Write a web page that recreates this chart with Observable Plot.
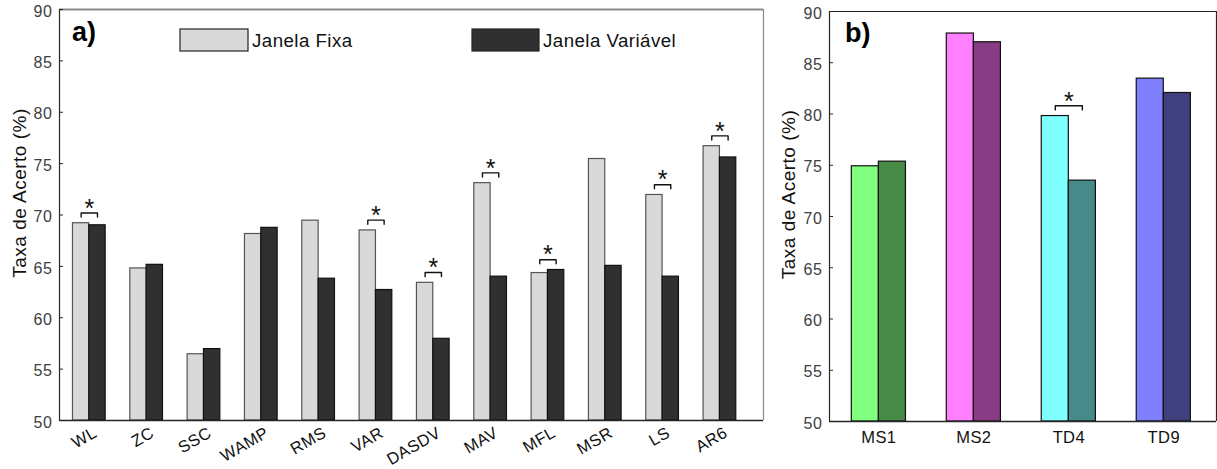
<!DOCTYPE html>
<html><head><meta charset="utf-8">
<script src="https://cdn.jsdelivr.net/npm/d3@7"></script>
<script src="https://cdn.jsdelivr.net/npm/@observablehq/plot@0.6"></script>
<style>
body{margin:0;background:#fff;}
#root{position:relative;width:1217px;height:469px;overflow:hidden;font-family:"Liberation Sans",Arial,sans-serif;}
#root > svg{position:absolute;top:0;}
</style></head><body><div id="root"></div>
<script>
// ---- data ----
const seriesNames = ["Janela Fixa", "Janela Variável"];
const featuresA = ["WL","ZC","SSC","WAMP","RMS","VAR","DASDV","MAV","MFL","MSR","LS","AR6"];
const fixaA     = [69.2, 64.8, 56.45, 68.15, 69.45, 68.5, 63.4, 73.1, 64.35, 75.45, 71.95, 76.7];
const variavelA = [69.0, 65.15, 56.95, 68.75, 63.8, 62.7, 57.95, 64.0, 64.65, 65.05, 64.0, 75.6];
const significantA = ["WL","VAR","DASDV","MAV","MFL","LS","AR6"];
const groupsB    = ["MS1","MS2","TD4","TD9"];
const fixaB      = [74.9, 87.85, 79.8, 83.45];
const variavelB  = [75.35, 87.0, 73.5, 82.05];
const significantB = ["TD4"];
const colorsFixaB     = ["#80ff80","#ff80ff","#80ffff","#8080ff"];
const colorsVariavelB = ["#488a48","#873c84","#468a8a","#40407f"];
const yTicks = [50,55,60,65,70,75,80,85,90];
const yLabel = "Taxa de Acerto (%)";

// ---- helpers ----
const BAR = 0.285, BR = 1.0, TK = 0.4, AST = 2.0;
const yMin = 50, yMax = 90;
const FONT = '"Liberation Sans", Arial, Helvetica, sans-serif';
const INK = "#262626";

function rows(cats, fixa, varv) {
  return cats.flatMap((c, i) => [
    {cat: c, i, s: 0, value: fixa[i]},
    {cat: c, i, s: 1, value: varv[i]}
  ]);
}
function sigRows(cats, fixa, varv, sig) {
  return sig.map(c => { const i = cats.indexOf(c); return {i, top: Math.max(fixa[i], varv[i])}; });
}
function bracketPts(sig) {
  return sig.flatMap((d, k) => [
    {k, x: d.i - BAR/2, y: d.top + BR - TK},
    {k, x: d.i - BAR/2, y: d.top + BR},
    {k, x: d.i + BAR/2, y: d.top + BR},
    {k, x: d.i + BAR/2, y: d.top + BR - TK}
  ]);
}

function panel(o) {
  const data = rows(o.cats, o.fixa, o.varv);
  const sig = sigRows(o.cats, o.fixa, o.varv, o.sig);
  const plotW = o.width - o.marginLeft - o.marginRight;
  return Plot.plot({
    width: o.width, height: 469,
    marginLeft: o.marginLeft, marginRight: o.marginRight, marginTop: o.marginTop, marginBottom: o.marginBottom,
    style: {fontFamily: FONT, color: INK, background: "transparent", overflow: "visible"},
    x: {domain: o.xDomain},
    y: {domain: [yMin, yMax]},
    color: {type: "identity"},
    marks: [
      Plot.rect(data, {
        x1: d => d.i + (d.s === 0 ? -BAR : 0),
        x2: d => d.i + (d.s === 0 ? 0 : BAR),
        y1: yMin, y2: "value",
        fill: o.fill, stroke: o.stroke, strokeWidth: 1.2
      }),
      Plot.line(bracketPts(sig), {x: "x", y: "y", z: "k", stroke: "#111", strokeWidth: 1.4, curve: "linear"}),
      Plot.text(sig, {x: "i", y: d => d.top + AST, text: () => "*", fontSize: 25, fontFamily: FONT, fill: "#111", lineAnchor: "middle", dy: 6}),
      Plot.ruleY([yMin], {stroke: INK, strokeWidth: 1.3}),
      Plot.ruleY([yMax], {stroke: o.topStroke, strokeWidth: o.topWidth}),
      Plot.ruleX([o.xDomain[0]], {stroke: INK, strokeWidth: 1.2}),
      Plot.ruleX([o.xDomain[1]], {stroke: o.rightStroke, strokeWidth: 1.2}),
      Plot.tickY(yTicks, {y: d => d, insetRight: plotW - 4, stroke: INK}),
      Plot.axisY({ticks: yTicks, tickSize: 0, tickPadding: 7, fontSize: 16, label: null, dy: 2, fill: "#404040"}),
      o.rotate
        ? Plot.axisX({ticks: o.cats.map((_, i) => i), tickFormat: i => o.cats[i], tickSize: 0, tickRotate: -30, tickPadding: 11, dx: 6, fontSize: 16.5, label: null, fill: "#111"})
        : Plot.axisX({ticks: o.cats.map((_, i) => i), tickFormat: i => o.cats[i], tickSize: 0, tickPadding: 10, fontSize: 16.5, label: null, fill: "#111"}),
      Plot.text([yLabel], {frameAnchor: "left", textAnchor: "middle", rotate: -90, dx: o.labelDx, dy: -22, fontSize: 19, fill: "#111"})
    ]
  });
}

const root = document.getElementById("root");

const svgA = panel({
  cats: featuresA, fixa: fixaA, varv: variavelA, sig: significantA,
  width: 780, marginLeft: 59, marginRight: 17, marginTop: 9, marginBottom: 49,
  xDomain: [-0.52, 11.76],
  fill: d => d.s === 0 ? "#d9d9d9" : "#303030",
  stroke: d => d.s === 0 ? "#555555" : "#111111",
  rotate: true, topStroke: "#8a8a8a", topWidth: 2, rightStroke: "#8a8a8a", labelDx: -40
});
svgA.style.left = "0px";
root.appendChild(svgA);

const svgB = panel({
  cats: groupsB, fixa: fixaB, varv: variavelB, sig: significantB,
  width: 447, marginLeft: 59, marginRight: 1, marginTop: 11, marginBottom: 48,
  xDomain: [-0.52, 3.555],
  fill: d => d.s === 0 ? colorsFixaB[d.i] : colorsVariavelB[d.i],
  stroke: "#111111",
  rotate: false, topStroke: INK, topWidth: 1.2, rightStroke: INK, labelDx: -41
});
svgB.style.left = "770px";
root.appendChild(svgB);

// letter spacing tweaks to match the wider rendering of the reference
d3.select(root).selectAll('g[aria-label="y-axis tick label"] text').style("letter-spacing", "0.6px");
d3.select(root).selectAll('g[aria-label="x-axis tick label"] text').style("letter-spacing", "0.4px");
d3.select(root).selectAll('g[aria-label="text"] text').filter(function(){return this.textContent === yLabel;}).style("letter-spacing", "0.5px");

// ---- overlay: legend and panel letters ----
const ov = d3.select(root).append("svg")
  .attr("width", 1217).attr("height", 469)
  .style("position", "absolute").style("left", "0px").style("top", "0px")
  .style("font-family", FONT);
const legend = [
  {name: seriesNames[0], fill: "#d9d9d9", sx: 180, sw: 68, tx: 252},
  {name: seriesNames[1], fill: "#303030", sx: 472, sw: 67, tx: 543}
];
ov.selectAll("rect.sw").data(legend).join("rect")
  .attr("x", d => d.sx).attr("y", 29).attr("width", d => d.sw).attr("height", 22)
  .attr("fill", d => d.fill).attr("stroke", "#222").attr("stroke-width", 1.2);
ov.selectAll("text.lg").data(legend).join("text")
  .attr("x", d => d.tx).attr("y", 46.7).attr("font-size", 18.7)
  .style("letter-spacing", "0.45px").attr("fill", "#111").text(d => d.name);
ov.append("text").attr("x", 72).attr("y", 41).attr("font-size", 27).attr("font-weight", "bold")
  .attr("fill", "#000").text("a)");
ov.append("text").attr("x", 845).attr("y", 41.7).attr("font-size", 27).attr("font-weight", "bold")
  .attr("fill", "#000").text("b)");
</script>
</body></html>
